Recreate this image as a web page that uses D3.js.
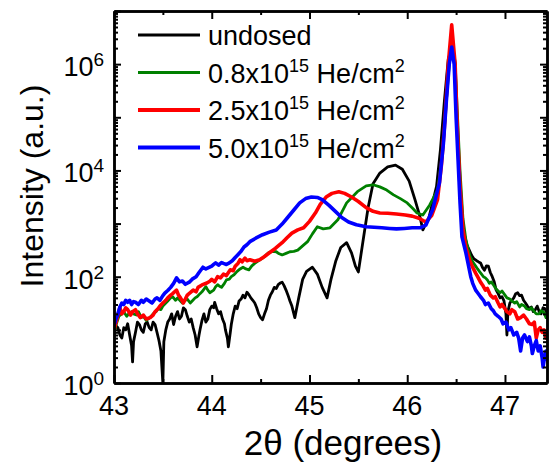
<!DOCTYPE html>
<html lang="en">
<head>
    <meta charset="UTF-8">
    <title>XRD He dose</title>
    <script src="https://cdn.jsdelivr.net/npm/d3@7/dist/d3.min.js"></script>
    <style>
        body { margin: 0; background: #fff; }
        svg text { font-family: "Liberation Sans", Arial, sans-serif; fill: #000; }
    </style>
</head>
<body>
<svg id="chart" width="550" height="462"></svg>
<script>
    // 2theta (deg), intensity (a.u.)
    var undosed = [
        [43.00, 9], [43.02, 12], [43.04, 11], [43.06, 8], [43.08, 7], [43.10, 11], [43.12, 10], [43.14, 13],
        [43.16, 8], [43.18, 5], [43.19, 2.5], [43.20, 6], [43.22, 9], [43.24, 14], [43.26, 12.6], [43.28, 10],
        [43.30, 9], [43.32, 13], [43.34, 14], [43.36, 11], [43.38, 10], [43.40, 14], [43.42, 12.6], [43.44, 9],
        [43.46, 6.3], [43.48, 4], [43.50, 1], [43.51, 6], [43.53, 10], [43.55, 14], [43.57, 16], [43.59, 20],
        [43.61, 12.6], [43.63, 18], [43.65, 22], [43.67, 16], [43.69, 18], [43.71, 26], [43.73, 24], [43.75, 18],
        [43.77, 14], [43.79, 16], [43.81, 11], [43.83, 8], [43.85, 4.8], [43.87, 8], [43.88, 10], [43.90, 15],
        [43.92, 20], [43.94, 14], [43.96, 16], [43.98, 24], [44.00, 28], [44.02, 26], [44.03, 33], [44.05, 25],
        [44.07, 20], [44.09, 22], [44.11, 16], [44.13, 13], [44.14, 10], [44.16, 7], [44.17, 4.8], [44.19, 9],
        [44.20, 12.6], [44.22, 20], [44.24, 28], [44.26, 25], [44.28, 35], [44.30, 38], [44.32, 45], [44.34, 40],
        [44.36, 51], [44.38, 46], [44.40, 40], [44.42, 36], [44.44, 32], [44.46, 26], [44.48, 20], [44.50, 17],
        [44.52, 15.5], [44.54, 20], [44.56, 25], [44.58, 36], [44.60, 45], [44.62, 52], [44.64, 63], [44.66, 60],
        [44.68, 71], [44.70, 76], [44.72, 79], [44.74, 68], [44.76, 56], [44.78, 45], [44.80, 35], [44.82, 28],
        [44.85, 17], [44.87, 26], [44.89, 40], [44.93, 89], [44.97, 126], [45.03, 151], [45.08, 112], [45.13, 63],
        [45.18, 40], [45.22, 89], [45.27, 200], [45.32, 355], [45.38, 437], [45.43, 282], [45.47, 158], [45.50, 123],
        [45.55, 501], [45.60, 2000], [45.65, 5600], [45.72, 8900], [45.80, 11700], [45.88, 12600], [45.95, 10500],
        [46.02, 6300], [46.08, 2800], [46.13, 1350], [46.16, 760], [46.19, 1000], [46.22, 1260], [46.26, 2500],
        [46.30, 5000], [46.34, 25000], [46.38, 2.0e5], [46.42, 1.26e6], [46.455, 2.0e6], [46.49, 1.0e6], [46.51, 8e4],
        [46.54, 5000], [46.57, 800], [46.61, 400], [46.63, 330], [46.66, 250], [46.68, 220], [46.71, 200], [46.73, 190],
        [46.75, 182], [46.77, 150], [46.79, 132], [46.81, 160], [46.83, 158], [46.85, 120], [46.87, 100], [46.89, 80],
        [46.91, 56], [46.93, 48], [46.95, 40], [46.97, 42], [46.99, 35], [47.01, 20], [47.02, 8], [47.03, 22],
        [47.05, 32], [47.07, 36], [47.09, 40], [47.11, 48], [47.13, 50], [47.15, 44], [47.17, 45], [47.19, 36],
        [47.21, 32], [47.23, 28], [47.25, 25], [47.27, 27], [47.29, 22], [47.31, 24], [47.33, 28], [47.35, 22],
        [47.37, 20], [47.39, 26], [47.41, 25], [47.43, 20], [47.45, 22]
    ];
    var dose08 = [
        [43.00, 9], [43.03, 14], [43.05, 18], [43.08, 20], [43.10, 22], [43.13, 18], [43.15, 20], [43.18, 22],
        [43.20, 20], [43.23, 19], [43.25, 22], [43.28, 17], [43.30, 18], [43.33, 15], [43.35, 16], [43.38, 18],
        [43.40, 20], [43.43, 22], [43.45, 25], [43.48, 24], [43.50, 28], [43.53, 32], [43.55, 35], [43.58, 40],
        [43.60, 42], [43.63, 36], [43.65, 40], [43.68, 35], [43.70, 32], [43.73, 36], [43.75, 38], [43.78, 32],
        [43.80, 35], [43.83, 40], [43.85, 42], [43.88, 48], [43.90, 52], [43.94, 65], [43.96, 56], [43.98, 50],
        [44.02, 56], [44.04, 65], [44.06, 71], [44.08, 66], [44.10, 63], [44.13, 75], [44.15, 87], [44.18, 90],
        [44.20, 100], [44.23, 110], [44.26, 126], [44.29, 140], [44.32, 151], [44.35, 140], [44.38, 135], [44.41, 160],
        [44.44, 178], [44.48, 200], [44.52, 224], [44.55, 250], [44.58, 282], [44.62, 300], [44.66, 295], [44.69, 270],
        [44.72, 257], [44.76, 275], [44.80, 295], [44.84, 300], [44.88, 316], [44.93, 380], [44.98, 457], [45.03, 640],
        [45.08, 870], [45.14, 794], [45.21, 832], [45.29, 1175], [45.38, 2450], [45.49, 3980], [45.58, 5130],
        [45.65, 5370], [45.72, 4900], [45.79, 4270], [45.86, 3470], [45.93, 2950], [46.00, 2450], [46.06, 1900],
        [46.10, 1580], [46.16, 1450], [46.23, 2240], [46.31, 4270], [46.36, 2.0e4], [46.40, 2.0e5], [46.43, 1.0e6],
        [46.46, 2.4e6], [46.49, 1.1e6], [46.51, 1.6e5], [46.54, 1.0e4], [46.57, 1260], [46.60, 500], [46.64, 250],
        [46.67, 190], [46.70, 158], [46.72, 140], [46.74, 125], [46.76, 112], [46.78, 100], [46.80, 95], [46.82, 87],
        [46.84, 75], [46.86, 80], [46.88, 71], [46.90, 62], [46.92, 56], [46.95, 50], [46.97, 54], [47.00, 45],
        [47.02, 40], [47.05, 38], [47.07, 35], [47.10, 32], [47.12, 34], [47.15, 27], [47.17, 30], [47.20, 28],
        [47.22, 25], [47.25, 24], [47.27, 26], [47.30, 22], [47.32, 20], [47.35, 20], [47.37, 23], [47.40, 21],
        [47.42, 17], [47.45, 18]
    ];
    var dose25 = [
        [43.00, 10], [43.03, 16], [43.06, 26], [43.08, 20], [43.10, 22], [43.12, 26], [43.14, 24], [43.17, 19],
        [43.19, 22], [43.22, 24], [43.24, 20], [43.27, 17], [43.30, 19], [43.33, 16], [43.37, 17], [43.40, 19],
        [43.42, 22], [43.45, 25], [43.47, 28], [43.50, 32], [43.53, 36], [43.55, 40], [43.58, 45], [43.60, 48],
        [43.62, 52], [43.64, 56], [43.66, 45], [43.68, 40], [43.71, 32], [43.73, 38], [43.75, 45], [43.78, 50],
        [43.81, 56], [43.84, 52], [43.86, 63], [43.90, 70], [43.95, 76], [43.98, 82], [44.00, 89], [44.03, 80],
        [44.06, 100], [44.09, 95], [44.12, 112], [44.15, 105], [44.19, 135], [44.22, 130], [44.24, 158], [44.27, 180],
        [44.29, 209], [44.31, 190], [44.34, 224], [44.36, 200], [44.39, 209], [44.44, 195], [44.49, 209], [44.54, 240],
        [44.59, 282], [44.65, 340], [44.72, 437], [44.77, 540], [44.82, 661], [44.88, 760], [44.94, 832], [45.00, 1100],
        [45.06, 1580], [45.11, 2300], [45.17, 3160], [45.23, 3700], [45.30, 3980], [45.36, 3700], [45.43, 3160],
        [45.50, 2600], [45.58, 2000], [45.65, 1700], [45.72, 1580], [45.80, 1560], [45.89, 1510], [45.98, 1450],
        [46.05, 1380], [46.12, 1260], [46.19, 1070], [46.25, 1410], [46.31, 2820], [46.35, 12600], [46.38, 6.3e4],
        [46.42, 1.0e6], [46.455, 5.5e6], [46.49, 1.0e6], [46.51, 8e4], [46.54, 5000], [46.57, 800], [46.60, 355],
        [46.64, 200], [46.67, 150], [46.70, 117], [46.72, 100], [46.75, 79], [46.77, 70], [46.80, 56], [46.82, 60],
        [46.85, 45], [46.88, 40], [46.90, 42], [46.93, 32], [46.95, 27], [46.97, 30], [47.00, 25], [47.02, 22],
        [47.05, 20], [47.07, 24], [47.10, 22], [47.13, 16], [47.16, 17], [47.19, 19], [47.22, 16], [47.25, 13],
        [47.28, 12.6], [47.30, 14], [47.32, 7], [47.34, 10], [47.36, 11], [47.38, 9], [47.40, 10], [47.42, 7],
        [47.45, 8]
    ];
    var dose50 = [
        [43.00, 12], [43.02, 16], [43.04, 20], [43.06, 27], [43.08, 32], [43.10, 30], [43.12, 36], [43.14, 33],
        [43.16, 36], [43.18, 30], [43.20, 34], [43.22, 33], [43.25, 30], [43.28, 36], [43.30, 33], [43.33, 38],
        [43.36, 35], [43.39, 32], [43.42, 38], [43.44, 40], [43.47, 36], [43.50, 44], [43.52, 49], [43.55, 55],
        [43.58, 63], [43.61, 75], [43.64, 95], [43.67, 80], [43.70, 83], [43.73, 72], [43.77, 79], [43.80, 90],
        [43.84, 100], [43.87, 120], [43.91, 151], [43.94, 140], [44.00, 158], [44.02, 170], [44.04, 182], [44.07, 165],
        [44.10, 185], [44.12, 178], [44.15, 170], [44.18, 182], [44.21, 200], [44.24, 230], [44.26, 251], [44.30, 300],
        [44.33, 363], [44.36, 400], [44.39, 457], [44.45, 530], [44.52, 617], [44.59, 690], [44.66, 759], [44.72, 980],
        [44.77, 1260], [44.84, 1800], [44.90, 2450], [44.96, 2950], [45.02, 3160], [45.08, 3100], [45.13, 2820],
        [45.20, 2200], [45.27, 1660], [45.33, 1300], [45.40, 1070], [45.48, 950], [45.58, 870], [45.66, 850],
        [45.74, 832], [45.82, 810], [45.89, 794], [45.97, 810], [46.05, 832], [46.13, 832], [46.19, 933], [46.26, 1820],
        [46.33, 5900], [46.37, 3.2e4], [46.40, 2.0e5], [46.43, 1.0e6], [46.455, 2.1e6], [46.48, 1.0e6], [46.50, 1.0e5],
        [46.52, 1.6e4], [46.54, 2500], [46.56, 562], [46.60, 282], [46.65, 100], [46.67, 75], [46.70, 56], [46.72, 50],
        [46.75, 42], [46.78, 36], [46.80, 30], [46.83, 32], [46.86, 25], [46.88, 23], [46.90, 20], [46.93, 18],
        [46.96, 16], [46.98, 13], [47.01, 14], [47.04, 10], [47.06, 11], [47.09, 8], [47.12, 9], [47.14, 7],
        [47.16, 4], [47.18, 7], [47.20, 8], [47.23, 6], [47.25, 7.4], [47.27, 5], [47.28, 3.6], [47.30, 5],
        [47.32, 6.3], [47.34, 4], [47.36, 5], [47.38, 3], [47.39, 2], [47.41, 3.5], [47.42, 4], [47.44, 2.5],
        [47.45, 3.2]
    ];

    var seriesNames = ["undosed", "0.8x10", "2.5x10", "5.0x10"];
    var seriesColors = ["#000000", "#008000", "#ff0000", "#0000ff"];
    var seriesWidths = [2.8, 2.8, 3.6, 3.6];
    var seriesData = [undosed, dose08, dose25, dose50];

    var xTicks = [43, 44, 45, 46, 47];
    var xMinorTicks = [43.5, 44.5, 45.5, 46.5];
    var yDecades = [1, 10, 100, 1e3, 1e4, 1e5, 1e6, 1e7];
    var yLabelExp = [0, 2, 4, 6];

    var svg = d3.select("#chart");
    var plotL = 114, plotR = 547, plotT = 11, plotB = 383;

    var x = d3.scaleLinear().domain([43, 47.43]).range([plotL, plotR]);
    var y = d3.scaleLog().domain([1, 1e7]).range([plotB, plotT]);

    // minor log ticks 2..9 in each decade
    var yMinor = [];
    for (var i = 0; i < yDecades.length - 1; i++) {
        for (var k = 2; k <= 9; k++) yMinor.push(yDecades[i] * k);
    }

    svg.append("defs").append("clipPath").attr("id", "plotclip")
        .append("rect").attr("x", plotL).attr("y", plotT).attr("width", plotR - plotL).attr("height", plotB - plotT);

    // curves
    var line = d3.line()
        .x(function(d) { return x(d[0]); })
        .y(function(d) { return y(d[1]); });

    var curves = svg.append("g").attr("clip-path", "url(#plotclip)");
    for (var s = 0; s < seriesData.length; s++) {
        curves.append("path")
            .datum(seriesData[s])
            .attr("fill", "none")
            .attr("stroke", seriesColors[s])
            .attr("stroke-width", seriesWidths[s])
            .attr("stroke-linejoin", "round")
            .attr("stroke-linecap", "round")
            .attr("d", line);
    }

    // axes, ticks pointing inward
    function styleAxis(g) {
        g.selectAll(".domain").attr("stroke", "#000").attr("stroke-width", 2.5);
        g.selectAll(".tick line").attr("stroke", "#000").attr("stroke-width", 2);
        g.selectAll("text").remove();
    }
    svg.append("g").attr("transform", "translate(0," + plotB + ")")
        .call(d3.axisBottom(x).tickValues(xTicks).tickSize(-8).tickSizeOuter(0)).call(styleAxis);
    svg.append("g").attr("transform", "translate(0," + plotB + ")")
        .call(d3.axisBottom(x).tickValues(xMinorTicks).tickSize(-4).tickSizeOuter(0)).call(styleAxis);
    svg.append("g").attr("transform", "translate(0," + plotT + ")")
        .call(d3.axisTop(x).tickValues(xTicks).tickSize(-8).tickSizeOuter(0)).call(styleAxis);
    svg.append("g").attr("transform", "translate(0," + plotT + ")")
        .call(d3.axisTop(x).tickValues(xMinorTicks).tickSize(-4).tickSizeOuter(0)).call(styleAxis);
    svg.append("g").attr("transform", "translate(" + plotL + ",0)")
        .call(d3.axisLeft(y).tickValues(yDecades).tickSize(-7).tickSizeOuter(0)).call(styleAxis);
    svg.append("g").attr("transform", "translate(" + plotL + ",0)")
        .call(d3.axisLeft(y).tickValues(yMinor).tickSize(-4).tickSizeOuter(0)).call(styleAxis);
    svg.append("g").attr("transform", "translate(" + plotR + ",0)")
        .call(d3.axisRight(y).tickValues(yDecades).tickSize(-7).tickSizeOuter(0)).call(styleAxis);
    svg.append("g").attr("transform", "translate(" + plotR + ",0)")
        .call(d3.axisRight(y).tickValues(yMinor).tickSize(-4).tickSizeOuter(0)).call(styleAxis);

    // tick labels
    svg.append("g").selectAll("text")
        .data(xTicks)
        .enter().append("text")
        .attr("x", function(d) { return x(d); })
        .attr("y", 415)
        .attr("text-anchor", "middle")
        .attr("font-size", 27)
        .text(function(d) { return d; });

    var yLab = svg.append("g").selectAll("text")
        .data(yLabelExp)
        .enter().append("text")
        .attr("x", 104)
        .attr("y", function(d) { return y(Math.pow(10, d)) + 12; })
        .attr("text-anchor", "end")
        .attr("font-size", 27);
    yLab.append("tspan").text("10");
    yLab.append("tspan").attr("font-size", 19).attr("dy", -10).text(function(d) { return d; });

    // axis titles
    svg.append("text")
        .attr("x", 343).attr("y", 455)
        .attr("text-anchor", "middle")
        .attr("font-size", 35)
        .text("2\u03b8 (degrees)");
    svg.append("text")
        .attr("transform", "translate(43,186) rotate(-90)")
        .attr("text-anchor", "middle")
        .attr("font-size", 32)
        .text("Intensity (a.u.)");

    // legend
    var legend = svg.append("g");
    for (var j = 0; j < seriesNames.length; j++) {
        var ly = 35 + j * 37.5;
        legend.append("line")
            .attr("x1", 138).attr("x2", 200).attr("y1", ly).attr("y2", ly)
            .attr("stroke", seriesColors[j])
            .attr("stroke-width", seriesWidths[j] + 0.4);
        var t = legend.append("text")
            .attr("x", 208).attr("y", ly + 10)
            .attr("font-size", 27);
        t.append("tspan").text(seriesNames[j]);
        if (j > 0) {
            t.append("tspan").attr("font-size", 18).attr("dy", -11).text("15");
            t.append("tspan").attr("dy", 11).text(" He/cm");
            t.append("tspan").attr("font-size", 18).attr("dy", -11).text("2");
        }
    }
</script>
</body>
</html>
